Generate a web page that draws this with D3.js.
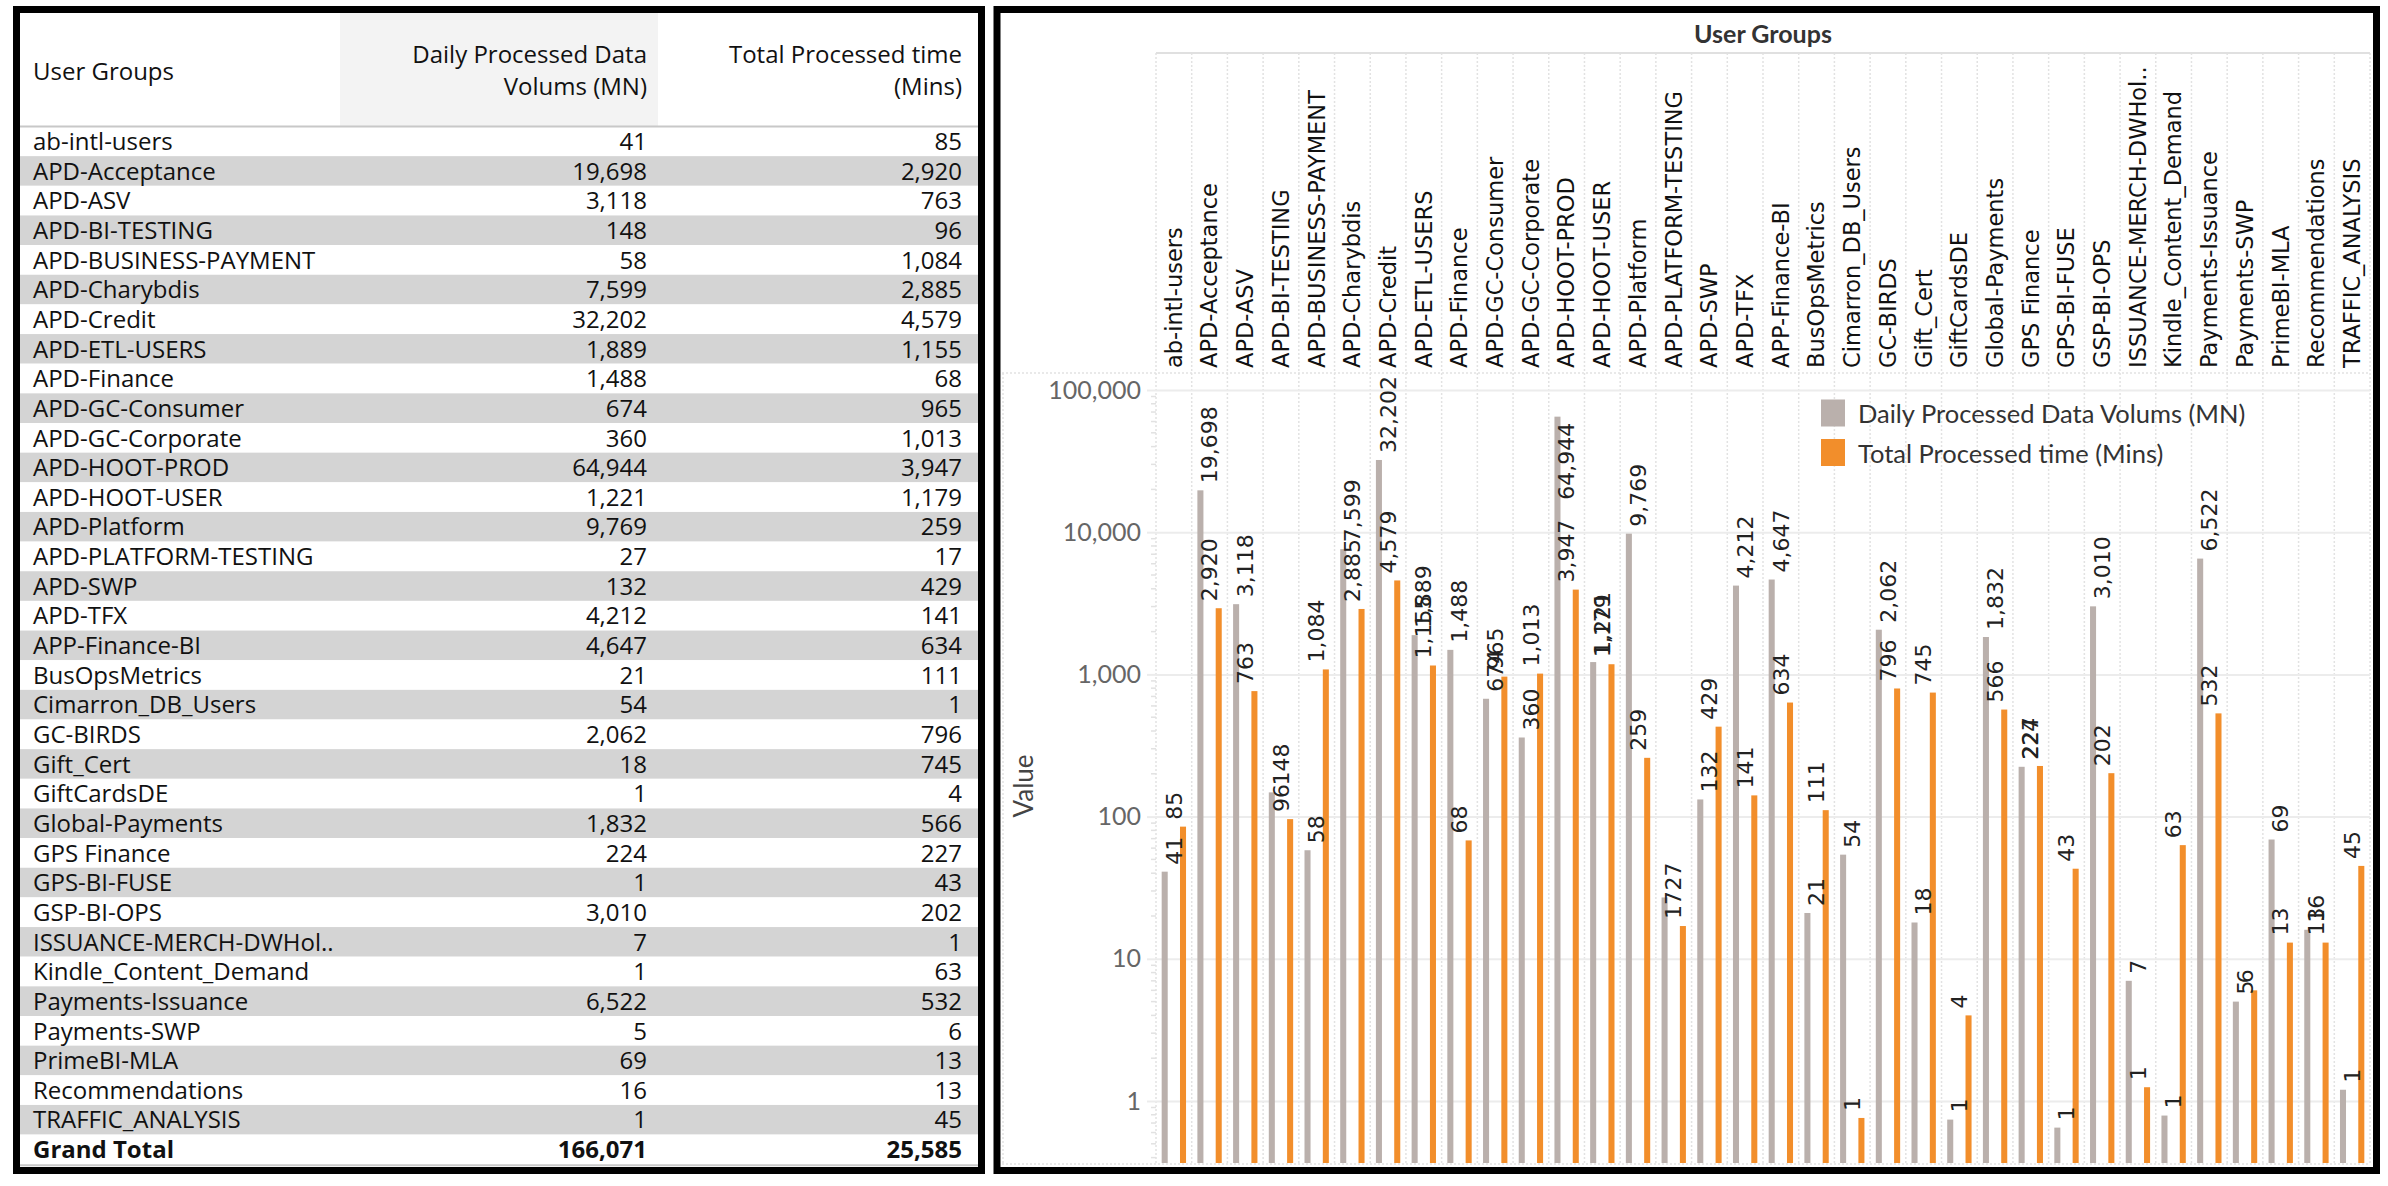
<!DOCTYPE html>
<html>
<head>
<meta charset="utf-8">
<script src="https://cdn.jsdelivr.net/npm/d3@7"></script>
<style>
  body { margin: 0; background: #fff; }
</style>
</head>
<body>
<svg width="2388" height="1186"></svg>
<script>
const groups = [
  'ab-intl-users', 'APD-Acceptance', 'APD-ASV', 'APD-BI-TESTING', 'APD-BUSINESS-PAYMENT',
  'APD-Charybdis', 'APD-Credit', 'APD-ETL-USERS', 'APD-Finance', 'APD-GC-Consumer',
  'APD-GC-Corporate', 'APD-HOOT-PROD', 'APD-HOOT-USER', 'APD-Platform', 'APD-PLATFORM-TESTING',
  'APD-SWP', 'APD-TFX', 'APP-Finance-BI', 'BusOpsMetrics', 'Cimarron_DB_Users',
  'GC-BIRDS', 'Gift_Cert', 'GiftCardsDE', 'Global-Payments', 'GPS Finance',
  'GPS-BI-FUSE', 'GSP-BI-OPS', 'ISSUANCE-MERCH-DWHol..', 'Kindle_Content_Demand', 'Payments-Issuance',
  'Payments-SWP', 'PrimeBI-MLA', 'Recommendations', 'TRAFFIC_ANALYSIS'
];
// values shown as "1" sit below/above the 1 gridline in the bars, so estimated
const dailyVolumes = [
  41, 19698, 3118, 148, 58, 7599, 32202, 1889, 1488, 674,
  360, 64944, 1221, 9769, 27, 132, 4212, 4647, 21, 54,
  2062, 18, 0.74, 1832, 224, 0.65, 3010, 7, 0.79, 6522,
  5, 69, 16, 1.2
];
const processedMins = [
  85, 2920, 763, 96, 1084, 2885, 4579, 1155, 68, 965,
  1013, 3947, 1179, 259, 17, 429, 141, 634, 111, 0.76,
  796, 745, 4, 566, 227, 43, 202, 1.25, 63, 532,
  6, 13, 13, 45
];
const grandTotals = [166071, 25585];
const seriesNames = ['Daily Processed Data Volums (MN)', 'Total Processed time (Mins)'];
const seriesColors = ['#bab0ac', '#f28e2b'];
const yTicks = [1, 10, 100, 1000, 10000, 100000];

const svg = d3.select('svg');
const fmt = d3.format(',.0f');

// ---------- left panel: table ----------
const table = svg.append('g');
const rowH = 29.65, tableTop = 126.5;
const rows = groups.map((g, i) => ({ name: g, a: dailyVolumes[i], b: processedMins[i] }));
rows.push({ name: 'Grand Total', a: grandTotals[0], b: grandTotals[1], total: true });

table.append('rect')
  .attr('x', 340).attr('y', 13).attr('width', 318).attr('height', tableTop - 13)
  .attr('fill', '#f3f3f3');

table.selectAll('rect.row').data(rows).enter().append('rect')
  .attr('class', 'row')
  .attr('x', 20).attr('y', (d, i) => tableTop + i * rowH)
  .attr('width', 958).attr('height', rowH)
  .attr('fill', (d, i) => i % 2 ? '#d4d4d4' : '#fff');

table.append('line').attr('x1', 20).attr('x2', 978).attr('y1', tableTop).attr('y2', tableTop)
  .attr('stroke', '#c8c8c8').attr('stroke-width', 2);
table.append('line').attr('x1', 20).attr('x2', 978)
  .attr('y1', tableTop + rows.length * rowH + 1).attr('y2', tableTop + rows.length * rowH + 1)
  .attr('stroke', '#c8c8c8').attr('stroke-width', 2);

const tfont = '"Open Sans", sans-serif';
table.append('text').attr('x', 33).attr('y', 80).text('User Groups')
  .attr('font-family', tfont).attr('font-size', 24).attr('fill', '#111');
[['Daily Processed Data', 'Volums (MN)', 647], ['Total Processed time', '(Mins)', 962]].forEach(h => {
  table.append('text').attr('x', h[2]).attr('y', 63).attr('text-anchor', 'end').text(h[0])
    .attr('font-family', tfont).attr('font-size', 24).attr('fill', '#111');
  table.append('text').attr('x', h[2]).attr('y', 95).attr('text-anchor', 'end').text(h[1])
    .attr('font-family', tfont).attr('font-size', 24).attr('fill', '#111');
});

const rowText = table.selectAll('g.rt').data(rows).enter().append('g')
  .attr('transform', (d, i) => `translate(0,${tableTop + i * rowH + 23.5})`)
  .attr('font-family', tfont).attr('font-size', 24).attr('fill', '#111')
  .attr('font-weight', d => d.total ? 700 : 400);
rowText.append('text').attr('x', 33).text(d => d.name);
rowText.append('text').attr('x', 647).attr('text-anchor', 'end').text(d => fmt(d.a));
rowText.append('text').attr('x', 962).attr('text-anchor', 'end').text(d => fmt(d.b));

svg.append('rect').attr('x', 16.5).attr('y', 9.5).attr('width', 965).attr('height', 1161)
  .attr('fill', 'none').attr('stroke', '#000').attr('stroke-width', 7);

// ---------- right panel: chart ----------
const plotLeft = 1156, plotRight = 2370, plotTop = 373, plotBottom = 1163;
const x = d3.scaleBand().domain(groups).range([plotLeft, plotRight]);
const xs = d3.scaleBand().domain([0, 1]).range([0, x.bandwidth()])
  .paddingInner(0.67).paddingOuter(0.31);
const y = d3.scaleLog().domain([1, 100000]).range([1101, 390]);
const yFull = y.copy().domain([y.invert(plotBottom), y.invert(plotTop)]);

const chart = svg.append('g');

// column separators (dotted)
chart.selectAll('line.sep').data(groups.concat(['__end'])).enter().append('line')
  .attr('x1', d => d === '__end' ? plotRight : x(d))
  .attr('x2', d => d === '__end' ? plotRight : x(d))
  .attr('y1', 53).attr('y2', plotBottom)
  .attr('stroke', '#e2e2e2').attr('stroke-dasharray', '2,2').attr('stroke-width', 1.5);

chart.append('line').attr('x1', 1002).attr('x2', plotRight).attr('y1', plotTop).attr('y2', plotTop)
  .attr('stroke', '#e2e2e2').attr('stroke-dasharray', '2,2').attr('stroke-width', 1.5);
chart.append('line').attr('x1', 1002).attr('x2', plotRight).attr('y1', plotBottom + 1).attr('y2', plotBottom + 1)
  .attr('stroke', '#e2e2e2').attr('stroke-dasharray', '2,2').attr('stroke-width', 1.5);
chart.append('line').attr('x1', 1003).attr('x2', 1003).attr('y1', plotTop).attr('y2', plotBottom)
  .attr('stroke', '#e2e2e2').attr('stroke-dasharray', '2,2').attr('stroke-width', 1.5);
chart.append('line').attr('x1', plotLeft).attr('x2', plotRight).attr('y1', 53).attr('y2', 53)
  .attr('stroke', '#e0e0e0').attr('stroke-width', 2);

// header
chart.append('text').attr('x', (plotLeft + plotRight) / 2).attr('y', 33)
  .attr('text-anchor', 'middle').attr('dominant-baseline', 'central')
  .attr('font-family', 'Lato, sans-serif').attr('font-weight', 700).attr('font-size', 25)
  .attr('fill', '#333').text('User Groups');

chart.selectAll('text.cat').data(groups).enter().append('text')
  .attr('class', 'cat')
  .attr('transform', d => `translate(${x(d) + x.bandwidth() / 2},368) rotate(-90)`)
  .attr('dy', '0.35em')
  .attr('font-family', '"DejaVu Sans", sans-serif').attr('font-size', 22.5).attr('fill', '#111')
  .text(d => d);

// grid
chart.append('g').attr('transform', `translate(${plotLeft},0)`)
  .call(d3.axisLeft(y).tickValues(yTicks).tickSize(-(plotRight - plotLeft)).tickFormat(''))
  .call(g => g.select('.domain').remove())
  .call(g => g.selectAll('line').attr('stroke', '#ececec').attr('stroke-width', 2));

// minor ticks
chart.selectAll('line.minor').data(yFull.ticks().filter(v => !yTicks.includes(v))).enter().append('line')
  .attr('x1', plotLeft - 5).attr('x2', plotLeft).attr('y1', d => y(d)).attr('y2', d => y(d))
  .attr('stroke', '#e2e2e2').attr('stroke-width', 1.5);

// y axis
chart.append('g').attr('transform', `translate(${plotLeft},0)`)
  .call(d3.axisLeft(y).tickValues(yTicks).tickSizeInner(9).tickSizeOuter(0).tickPadding(6).tickFormat(d3.format(',')))
  .call(g => g.select('.domain').remove())
  .call(g => g.selectAll('line').attr('stroke', '#ececec').attr('stroke-width', 2))
  .call(g => g.selectAll('text').attr('font-family', 'Lato, sans-serif').attr('font-size', 25).attr('fill', '#666'));

chart.append('text').attr('transform', `translate(1023,786) rotate(-90)`)
  .attr('text-anchor', 'middle').attr('dominant-baseline', 'central')
  .attr('font-family', 'Lato, sans-serif').attr('font-size', 26).attr('fill', '#444').text('Value');

// bars + labels
const seriesData = [dailyVolumes, processedMins];
const bars = [];
groups.forEach((g, i) => seriesData.forEach((arr, s) => bars.push({ g, s, v: arr[i] })));

chart.selectAll('rect.bar').data(bars).enter().append('rect')
  .attr('class', 'bar')
  .attr('x', d => x(d.g) + xs(d.s))
  .attr('y', d => y(d.v))
  .attr('width', xs.bandwidth())
  .attr('height', d => plotBottom - y(d.v))
  .attr('fill', d => seriesColors[d.s]);

chart.selectAll('text.lbl').data(bars).enter().append('text')
  .attr('class', 'lbl')
  .attr('dy', '0.35em')
  .attr('font-family', '"DejaVu Sans", sans-serif').attr('font-size', 22).attr('fill', '#222')
  .text(d => fmt(d.v))
  .attr('transform', function(d) {
    const len = this.getComputedTextLength();
    let y0 = y(d.v) - 7;
    // label that would run out of the pane is pushed down next to the bar
    if (y0 - len < plotTop) y0 = y(d.v) + 6 + len;
    return `translate(${x(d.g) + x.bandwidth() / 2},${y0}) rotate(-90)`;
  });

// legend
const legend = chart.append('g').attr('transform', 'translate(1821,0)');
seriesNames.forEach((name, s) => {
  const cy = 413 + s * 39.5;
  legend.append('rect').attr('x', 0).attr('y', cy - 13.5).attr('width', 24).attr('height', 27)
    .attr('fill', seriesColors[s]);
  legend.append('text').attr('x', 37).attr('y', cy).attr('dominant-baseline', 'central')
    .attr('font-family', 'Lato, sans-serif').attr('font-size', 25.5).attr('fill', '#333').text(name);
});

svg.append('rect').attr('x', 997).attr('y', 9.5).attr('width', 1379.5).attr('height', 1161)
  .attr('fill', 'none').attr('stroke', '#000').attr('stroke-width', 7);
</script>
</body>
</html>
